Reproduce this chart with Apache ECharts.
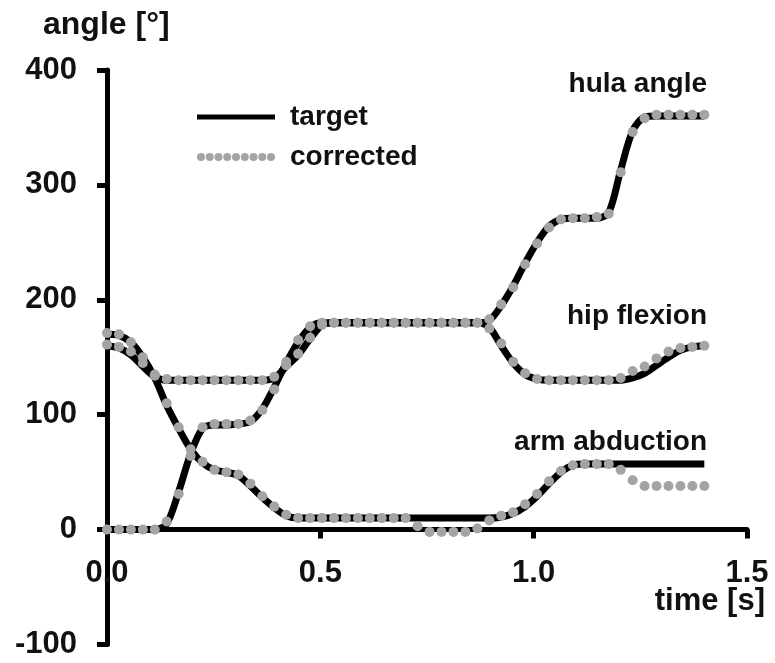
<!DOCTYPE html>
<html>
<head>
<meta charset="utf-8">
<script src="https://cdn.jsdelivr.net/npm/echarts@6/dist/echarts.min.js"></script>
<style>
  html, body { margin: 0; padding: 0; background: #fff; }
  #chart { width: 775px; height: 663px; }
</style>
</head>
<body>
<div id="chart"></div>
<script>
// time samples [s]
const times = [0, 0.028, 0.056, 0.084, 0.112, 0.14, 0.168, 0.196, 0.224, 0.252, 0.28, 0.308, 0.336, 0.364, 0.392, 0.42, 0.448,
  0.476, 0.504, 0.532, 0.56, 0.588, 0.616, 0.644, 0.672, 0.7, 0.728, 0.756, 0.784, 0.812, 0.84, 0.868, 0.896,
  0.924, 0.952, 0.98, 1.008, 1.036, 1.064, 1.092, 1.12, 1.148, 1.176, 1.204, 1.232, 1.26, 1.288, 1.316, 1.344, 1.372, 1.4]

// angles [deg]
const hulaTarget = [0, 0, 0, 0, 0, 5, 33, 66, 88, 91, 91, 92, 94, 105, 124, 145, 163, 176, 180,
  180, 180, 180, 180, 180, 180, 180, 180, 180, 180, 180, 180, 180,
  182, 195, 212, 232, 250, 264, 270, 271, 271, 271, 276, 313, 347, 359, 360, 360, 360, 360, 360]
const hulaCorrected = [0, 0, 0, 0, 0, 7, 31, 64, 89, 92, 92, 92, 95, 104, 122, 146, 165, 177, 180,
  180, 180, 180, 180, 180, 180, 180, 180, 180, 180, 180, 180, 180,
  183, 196, 211, 231, 249, 263, 270, 271, 271, 272, 275, 311, 346, 358, 361, 361, 361, 361, 361]
const hipTarget = [160, 158, 152, 142, 133, 130, 130, 130, 130, 130, 130, 130, 130, 130,
  132, 142, 152, 166, 178, 180, 180, 180, 180, 180, 180, 180, 180, 180, 180, 180, 180, 180,
  176, 160, 145, 135, 131, 130, 130, 130, 130, 130, 130, 130, 132, 136, 143, 150, 156, 159, 160]
const hipCorrected = [161, 159, 155, 145, 135, 131, 130, 130, 130, 130, 130, 130, 130, 130,
  133, 143, 153, 167, 178, 180, 180, 180, 180, 180, 180, 180, 180, 180, 180, 180, 180, 180,
  175, 162, 146, 136, 131, 130, 130, 130, 130, 130, 130, 132, 138, 142, 149, 155, 158, 159, 160]
const armTarget = [170, 169, 163, 150, 132, 108, 88, 70, 58, 52, 50, 47, 38, 28, 19, 12, 10,
  10, 10, 10, 10, 10, 10, 10, 10, 10, 10, 10, 10, 10, 10, 10, 10,
  11, 14, 20, 29, 40, 50, 56, 57, 57, 57, 57, 57, 57, 57, 57, 57, 57, 57]
const armCorrected = [171, 170, 163, 150, 134, 110, 89, 70, 59, 52, 50, 48, 40, 29, 20, 13, 10,
  10, 10, 10, 10, 10, 10, 10, 10, 10, 3, -2, -2, -2, -2, 1,
  8, 12, 15, 22, 31, 42, 51, 56, 57, 57, 57, 52, 43, 38, 38, 38, 38, 38, 38]

const curveNames = ['hula angle', 'hip flexion', 'arm abduction']
const xTicks = [0, 0.5, 1.0, 1.5]
const yTicks = [-100, 0, 100, 200, 300, 400]

const FONT = '"Liberation Sans", Arial, sans-serif'
const INK = '#111'
const DOT = '#a4a4a4'

const GRID_TOP = 70
const GRID_BOTTOM = 18.5
const GRID_H = 663 - GRID_TOP - GRID_BOTTOM
// x axis sits on y = 0, i.e. one tick step above the bottom (-100)
const xAxisShift = GRID_H * (0 - yTicks[0]) / (yTicks[yTicks.length - 1] - yTicks[0])

const pairs = (vals) => times.map((t, i) => [t, vals[i]])

// dotted legend icon: row of 9 circles in a 78x8 box
let dotPath = ''
for (let k = 0; k < 9; k++) {
  const x = k * 8.75
  dotPath += 'M' + x + ',4a4,4 0 1,0 8,0a4,4 0 1,0 -8,0Z'
}

const targetSeries = [hulaTarget, hipTarget, armTarget].map(v => ({
  name: 'target',
  type: 'line',
  data: pairs(v),
  showSymbol: false,
  smooth: 0.3,
  lineStyle: { color: '#000', width: 7 },
  itemStyle: { color: '#000' },
  z: 2,
  animation: false
}))
const correctedSeries = [hulaCorrected, hipCorrected, armCorrected].map(v => ({
  name: 'corrected',
  type: 'scatter',
  data: pairs(v),
  symbol: 'circle',
  symbolSize: 10,
  itemStyle: { color: DOT, opacity: 1 },
  z: 3,
  animation: false
}))

const chart = echarts.init(document.getElementById('chart'))
chart.setOption({
  backgroundColor: '#fff',
  animation: false,
  grid: { left: 107, right: 28, top: GRID_TOP, bottom: GRID_BOTTOM, outerBoundsMode: 'none', containLabel: false },
  legend: [{
    data: ['target'],
    left: 192,
    top: 98,
    icon: 'rect',
    itemWidth: 78,
    itemHeight: 5,
    selectedMode: false,
    textStyle: { fontSize: 28, fontWeight: 'bold', fontFamily: FONT, color: INK, padding: [0, 0, 0, 10] }
  }, {
    data: ['corrected'],
    left: 192,
    top: 138,
    icon: 'path://' + dotPath,
    itemWidth: 78,
    itemHeight: 8,
    selectedMode: false,
    textStyle: { fontSize: 28, fontWeight: 'bold', fontFamily: FONT, color: INK, padding: [0, 0, 0, 10] }
  }],
  xAxis: {
    type: 'value',
    position: 'bottom',
    offset: -xAxisShift,
    min: xTicks[0],
    max: xTicks[xTicks.length - 1],
    interval: 0.5,
    splitLine: { show: false },
    axisLine: { onZero: false, lineStyle: { color: '#000', width: 5 } },
    axisTick: { show: true, inside: false, length: 9, lineStyle: { color: '#000', width: 5 } },
    axisLabel: {
      margin: 28,
      fontSize: 31,
      fontWeight: 'bold',
      fontFamily: FONT,
      color: INK,
      formatter: v => v.toFixed(1)
    }
  },
  yAxis: {
    type: 'value',
    min: yTicks[0],
    max: yTicks[yTicks.length - 1],
    interval: 100,
    splitLine: { show: false },
    axisLine: { show: true, onZero: false, lineStyle: { color: '#000', width: 5 } },
    axisTick: { show: true, inside: false, length: 10, lineStyle: { color: '#000', width: 5 } },
    axisLabel: {
      margin: 30,
      fontSize: 31,
      fontWeight: 'bold',
      fontFamily: FONT,
      color: INK
    }
  },
  graphic: [
    { type: 'text', left: 43, top: 9, style: { text: 'angle [°]', font: 'bold 32px ' + FONT, fill: INK } },
    { type: 'text', right: 10, top: 586, style: { text: 'time [s]', font: 'bold 31px ' + FONT, fill: INK } },
    { type: 'text', right: 68, top: 70, style: { text: curveNames[0], font: 'bold 28px ' + FONT, fill: INK } },
    { type: 'text', right: 68, top: 302, style: { text: curveNames[1], font: 'bold 28px ' + FONT, fill: INK } },
    { type: 'text', right: 68, top: 428, style: { text: curveNames[2], font: 'bold 28px ' + FONT, fill: INK } }
  ],
  series: targetSeries.concat(correctedSeries)
})
</script>
</body>
</html>
